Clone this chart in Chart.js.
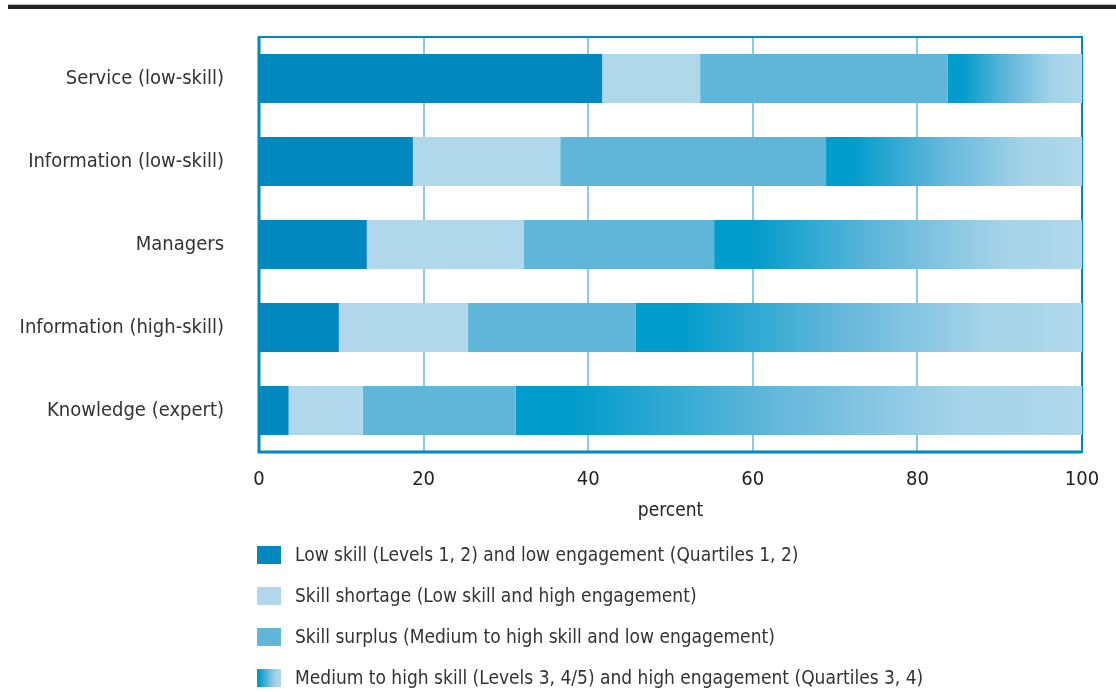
<!DOCTYPE html>
<html lang="en">
<head>
<meta charset="UTF-8" />
<title>Skill and engagement by occupation</title>
<style>
  html, body {
    margin: 0;
    padding: 0;
    background: #fff;
  }
  #wrap {
    position: relative;
    width: 1116px;
    height: 692px;
  }
  #rule {
    position: absolute;
    left: 8px;
    right: 0;
    top: 5px;
    height: 4px;
    background: #222;
    box-shadow: 0 -1px 1px #bbb;
  }
  canvas { display: block; }
</style>
<script src="https://cdn.jsdelivr.net/npm/chart.js"></script>
</head>
<body>
<div id="wrap">
  <div id="rule"></div>
  <canvas id="chart" width="1116" height="692"></canvas>
</div>

<script>
  const occupations = [
    'Service (low-skill)',
    'Information (low-skill)',
    'Managers',
    'Information (high-skill)',
    'Knowledge (expert)'
  ];
  const lowSkillLowEng = [41.7, 18.7, 13.1, 9.7, 3.6];
  const skillShortage = [11.9, 17.9, 19.1, 15.7, 9.0];
  const skillSurplus = [30.1, 32.3, 23.1, 20.4, 18.6];
  const highSkillHighEng = [16.3, 31.1, 44.7, 54.2, 68.8];
  const xTicks = [0, 20, 40, 60, 80, 100];

  const FONT = "'DejaVu Sans Condensed', 'Liberation Sans Narrow', 'Liberation Sans', sans-serif";
  const DARK = '#0088bf';
  const PALE = '#b0d8ea';
  const MID = '#5fb6d9';

  function fadeStops(g) {
    g.addColorStop(0, '#009ccb');
    g.addColorStop(0.1, '#019ccb');
    g.addColorStop(0.45, '#62b7da');
    g.addColorStop(0.78, '#a5d3e9');
    g.addColorStop(1, PALE);
    return g;
  }

  // last segment fades from strong blue to pale across its own length
  function fadeFill(ctx) {
    const chart = ctx.chart;
    if (!chart.chartArea || ctx.type !== 'data') return '#009ccb';
    const i = ctx.dataIndex;
    const x = chart.scales.x;
    const start = lowSkillLowEng[i] + skillShortage[i] + skillSurplus[i];
    const x0 = x.getPixelForValue(start);
    const x1 = x.getPixelForValue(start + highSkillHighEng[i]);
    return fadeStops(chart.ctx.createLinearGradient(x0, 0, x1, 0));
  }

  const frame = {
    id: 'frame',
    beforeDatasetsDraw(chart) {
      const { ctx, chartArea: a } = chart;
      ctx.save();
      ctx.strokeStyle = DARK;
      ctx.lineWidth = 2;
      ctx.strokeRect(a.left, a.top, a.right - a.left, a.bottom - a.top);
      ctx.lineWidth = 3;
      ctx.beginPath();
      ctx.moveTo(a.left, a.top);
      ctx.lineTo(a.left, a.bottom);
      ctx.lineTo(a.right, a.bottom);
      ctx.stroke();
      ctx.restore();
    }
  };

  // stacked legend under the axis title
  const sideLegend = {
    id: 'sideLegend',
    afterDraw(chart) {
      const { ctx } = chart;
      const left = chart.chartArea.left - 2;
      ctx.save();
      ctx.font = '19px ' + FONT;
      ctx.textBaseline = 'middle';
      chart.data.datasets.forEach((ds, k) => {
        const cy = 555 + k * 41;
        if (k === 3) {
          ctx.fillStyle = fadeStops(ctx.createLinearGradient(left, 0, left + 24, 0));
        } else {
          ctx.fillStyle = ds.backgroundColor;
        }
        ctx.fillRect(left, cy - 9, 24, 18);
        ctx.fillStyle = '#333';
        ctx.fillText(ds.label, 295, cy + 1);
      });
      ctx.restore();
    }
  };

  new Chart(document.getElementById('chart'), {
    type: 'bar',
    data: {
      labels: occupations,
      datasets: [
        { label: 'Low skill (Levels 1, 2) and low engagement (Quartiles 1, 2)', data: lowSkillLowEng, backgroundColor: DARK },
        { label: 'Skill shortage (Low skill and high engagement)', data: skillShortage, backgroundColor: PALE },
        { label: 'Skill surplus (Medium to high skill and low engagement)', data: skillSurplus, backgroundColor: MID },
        { label: 'Medium to high skill (Levels 3, 4/5) and high engagement (Quartiles 3, 4)', data: highSkillHighEng, backgroundColor: fadeFill }
      ]
    },
    options: {
      indexAxis: 'y',
      responsive: false,
      animation: false,
      events: [],
      datasets: {
        bar: { categoryPercentage: 1, barPercentage: 0.59, borderWidth: 0 }
      },
      layout: { padding: { top: 37, right: 34, bottom: 160, left: 0 } },
      plugins: {
        legend: { display: false },
        tooltip: { enabled: false }
      },
      scales: {
        x: {
          stacked: true,
          min: 0,
          max: 100,
          afterBuildTicks: axis => { axis.ticks = xTicks.map(v => ({ value: v })); },
          afterFit: axis => { axis.height = 80; },
          grid: { color: '#8ecae6', lineWidth: 2, drawTicks: false },
          border: { display: false },
          ticks: {
            color: '#222',
            padding: 16,
            font: { family: FONT, size: 20 }
          },
          title: {
            display: true,
            text: 'percent',
            color: '#222',
            padding: { top: 0, bottom: 10 },
            font: { family: FONT, size: 19 }
          }
        },
        y: {
          stacked: true,
          afterFit: axis => {
            axis.width = 259;
            axis.paddingTop = 0;
            axis.paddingBottom = 0;
          },
          grid: { display: false },
          border: { display: false },
          ticks: {
            color: '#333',
            padding: 27,
            font: { family: FONT, size: 20 }
          }
        }
      }
    },
    plugins: [frame, sideLegend]
  });
</script>
</body>
</html>
